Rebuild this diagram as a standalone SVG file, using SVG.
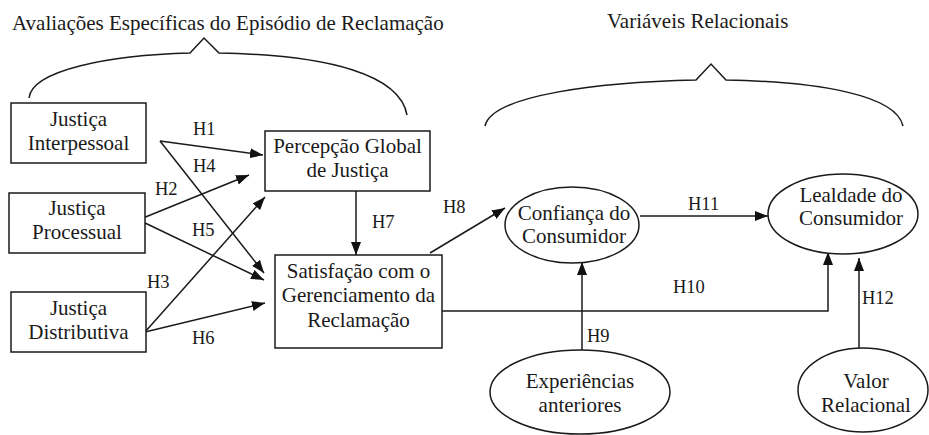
<svg xmlns="http://www.w3.org/2000/svg" width="929" height="435" viewBox="0 0 929 435" font-family="'Liberation Serif', 'DejaVu Serif', serif">
<defs>
<marker id="ah" markerUnits="userSpaceOnUse" markerWidth="14" markerHeight="10" refX="13" refY="5" orient="auto">
<path d="M0,0 L13,5 L0,10 Z" fill="#111"/>
</marker>
<style>
text{font-family:'Liberation Serif','DejaVu Serif',serif;fill:#1a1a1a}
.t{font-size:21px}
.n{font-size:21px;text-anchor:middle}
.h{font-size:18.5px}
.box{fill:#fff;stroke:#1a1a1a;stroke-width:1.5}
.br{fill:none;stroke:#1a1a1a;stroke-width:1.5}
.c{fill:none;stroke:#1a1a1a;stroke-width:1.5}
.a{marker-end:url(#ah)}
</style>
</defs>
<rect width="929" height="435" fill="#fff"/>
<g id="titles">
<text class="t" x="12" y="30">Avaliações Específicas do Episódio de Reclamação</text>
<text class="t" x="607" y="28">Variáveis Relacionais</text>
</g>
<g id="brackets">
<path class="br" d="M29,98 C32,70 110,55 190,53 L204,38 L219,53 C330,55 400,75 407,115"/>
<path class="br" d="M485,126 C492,95 600,82 696,80 L711,64 L726,80 C820,82 896,95 903,126"/>
</g>
<g id="connectors">
<path class="c a" d="M160,141 L263,155"/>
<path class="c a" d="M160,141 L264,273"/>
<path class="c a" d="M143,218 L249,175"/>
<path class="c a" d="M143,222 L264,280"/>
<path class="c a" d="M145,332 L265,197"/>
<path class="c a" d="M145,332 L265,303"/>
<path class="c a" d="M356,191 L356,255"/>
<path class="c a" d="M430,253 L505,208"/>
<path class="c a" d="M640,216 L768,216"/>
<path class="c a" d="M442,311 L828,311 L828,252"/>
<path class="c a" d="M582,350 L582,262"/>
<path class="c a" d="M859,348 L859,258"/>
<text class="h" x="193" y="135">H1</text>
<text class="h" x="193" y="172">H4</text>
<text class="h" x="155" y="195">H2</text>
<text class="h" x="192" y="236">H5</text>
<text class="h" x="147" y="288">H3</text>
<text class="h" x="192" y="344">H6</text>
<text class="h" x="372" y="228">H7</text>
<text class="h" x="443" y="213">H8</text>
<text class="h" x="688" y="210">H11</text>
<text class="h" x="673" y="293">H10</text>
<text class="h" x="587" y="342">H9</text>
<text class="h" x="862" y="304">H12</text>
</g>
<g id="justica-interpessoal">
<rect class="box" x="11" y="103" width="135" height="60"/>
<text class="n" x="78.5" y="126">Justiça</text>
<text class="n" x="78.5" y="150">Interpessoal</text>
</g>
<g id="justica-processual">
<rect class="box" x="9" y="193" width="136" height="60"/>
<text class="n" x="77" y="215">Justiça</text>
<text class="n" x="77" y="239">Processual</text>
</g>
<g id="justica-distributiva">
<rect class="box" x="11" y="292" width="135" height="60"/>
<text class="n" x="78.5" y="315">Justiça</text>
<text class="n" x="78.5" y="339">Distributiva</text>
</g>
<g id="percepcao-global">
<rect class="box" x="265" y="131" width="165" height="60"/>
<text class="n" x="347.5" y="153">Percepção Global</text>
<text class="n" x="347.5" y="177">de Justiça</text>
</g>
<g id="satisfacao">
<rect class="box" x="275" y="255" width="167" height="93"/>
<text class="n" x="358.5" y="278">Satisfação com o</text>
<text class="n" x="358.5" y="302">Gerenciamento da</text>
<text class="n" x="358.5" y="327">Reclamação</text>
</g>
<g id="confianca">
<ellipse class="box" cx="572" cy="225" rx="67" ry="38"/>
<text class="n" x="574" y="220">Confiança do</text>
<text class="n" x="574" y="243">Consumidor</text>
</g>
<g id="lealdade">
<ellipse class="box" cx="843" cy="214" rx="75" ry="40"/>
<text class="n" x="851" y="202">Lealdade do</text>
<text class="n" x="851" y="225">Consumidor</text>
</g>
<g id="experiencias">
<ellipse class="box" cx="580" cy="392" rx="90" ry="42"/>
<text class="n" x="580" y="388">Experiências</text>
<text class="n" x="580" y="412">anteriores</text>
</g>
<g id="valor-relacional">
<ellipse class="box" cx="863" cy="390" rx="65" ry="42"/>
<text class="n" x="866" y="388">Valor</text>
<text class="n" x="866" y="412">Relacional</text>
</g>
</svg>
